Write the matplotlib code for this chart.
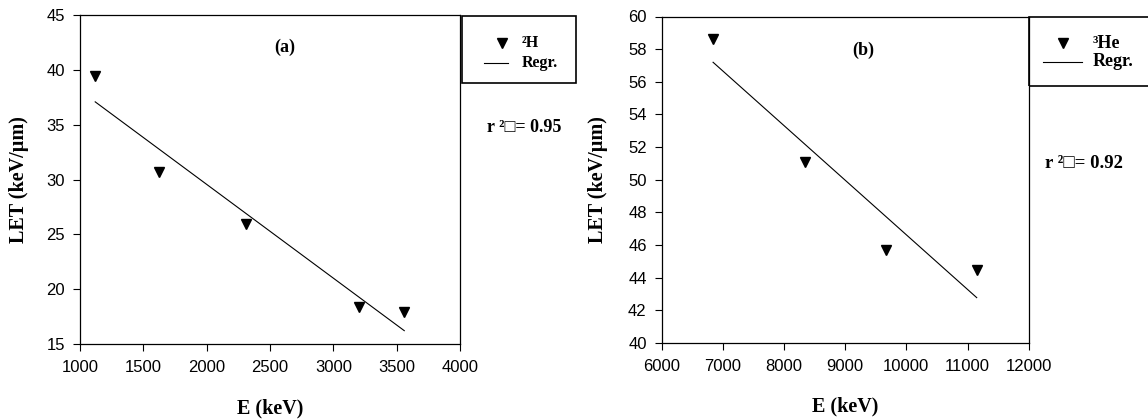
import numpy as np
from matplotlib import pyplot as plt
from matplotlib.lines import Line2D
from matplotlib.patches import Rectangle

# Panel (a): 2H
e_h2 = [1120, 1620, 2310, 3200, 3560]
let_h2 = [39.4, 30.7, 25.9, 18.4, 17.9]

# Panel (b): 3He
e_he3 = [6840, 8345, 9660, 11150]
let_he3 = [58.6, 51.1, 45.7, 44.5]

serif = ['Liberation Serif', 'DejaVu Serif']
sans = ['Liberation Sans', 'DejaVu Sans']
plt.rcParams['font.family'] = sans

W, H = 1148, 420


def px(x, y):
    # pixel position (from top-left) -> figure fraction
    return x / W, 1 - y / H


def panel(ax, x, y, xlim, xstep, ylim, ystep, tag, tag_pos, ylab_x):
    x = np.array(x, dtype=float)
    y = np.array(y, dtype=float)

    # linear regression from the points
    k, b = np.polyfit(x, y, 1)
    xr = np.array([x.min(), x.max()])

    ax.plot(x, y, linestyle='none', marker='v', color='black', ms=7.5)
    ax.plot(xr, k * xr + b, color='black', lw=0.8)

    ax.set_xlim(*xlim)
    ax.set_ylim(*ylim)
    ax.set_xticks(np.arange(xlim[0], xlim[1] + 1, xstep))
    ax.set_yticks(np.arange(ylim[0], ylim[1] + 0.1, ystep))
    ax.tick_params(direction='out', length=4.8, width=0.8, labelsize=12,
                   top=False, right=False)
    ax.tick_params(axis='x', pad=6.5)
    ax.tick_params(axis='y', pad=6)
    for s in ax.spines.values():
        s.set_linewidth(0.9)

    ax.set_xlabel('E (keV)', family=serif, weight='bold', fontsize=14.5)
    ax.set_ylabel('LET (keV/\u00b5m)', family=serif, weight='bold', fontsize=14.5)
    ax.xaxis.set_label_coords(0.5, -0.165)
    ax.yaxis.set_label_coords(ylab_x, 0.5)

    ax.text(tag_pos[0], tag_pos[1], tag, transform=ax.transAxes, ha='center',
            va='center', family=serif, weight='bold', fontsize=13)


def legend_box(fig, box, mark, line, text_x, rows, ion, size):
    x0, y0, x1, y1 = box
    fx0, fy1 = px(x0, y1)
    fx1, fy0 = px(x1, y0)
    fig.add_artist(Rectangle((fx0, fy1), fx1 - fx0, fy0 - fy1, fill=False,
                             edgecolor='black', lw=1.2,
                             transform=fig.transFigure))
    mx, my = px(mark, rows[0])
    fig.add_artist(Line2D([mx], [my], linestyle='none', marker='v',
                          color='black', ms=7.5, transform=fig.transFigure))
    lx0, ly = px(line[0], rows[1])
    lx1, _ = px(line[1], rows[1])
    fig.add_artist(Line2D([lx0, lx1], [ly, ly], color='black', lw=0.8,
                          transform=fig.transFigure))
    for label, r in zip([ion, 'Regr.'], rows):
        tx, ty = px(text_x, r)
        fig.text(tx, ty, label, ha='left', va='center', family=serif,
                 weight='bold', fontsize=size)


fig = plt.figure(figsize=(W / 100, H / 100), dpi=100)
ax1 = fig.add_axes([80 / W, (H - 344) / H, 380 / W, 329 / H])
ax2 = fig.add_axes([661.7 / W, (H - 343) / H, 367 / W, 326.5 / H])

panel(ax1, e_h2, let_h2, (1000, 4000), 500, (15, 45), 5, '(a)',
      (0.54, 0.903), -0.135)
panel(ax2, e_he3, let_he3, (6000, 12000), 1000, (40, 60), 2, '(b)',
      (0.549, 0.897), -0.145)

legend_box(fig, (462, 16, 576, 83), 502, (484, 508), 522, (43, 63),
           '\u00b2H', 11.5)
legend_box(fig, (1029, 16.5, 1170, 86), 1063, (1043, 1082), 1093, (43, 62),
           '\u00b3He', 13)

r2_font = ['Liberation Serif', 'DejaVu Sans']
fig.text(*px(487, 127), 'r \u00b2\u25a1= 0.95', ha='left', va='center',
         family=r2_font, weight='bold', fontsize=13)
fig.text(*px(1045, 163), 'r \u00b2\u25a1= 0.92', ha='left', va='center',
         family=r2_font, weight='bold', fontsize=13.5)

fig.savefig('out.png', dpi=100)
